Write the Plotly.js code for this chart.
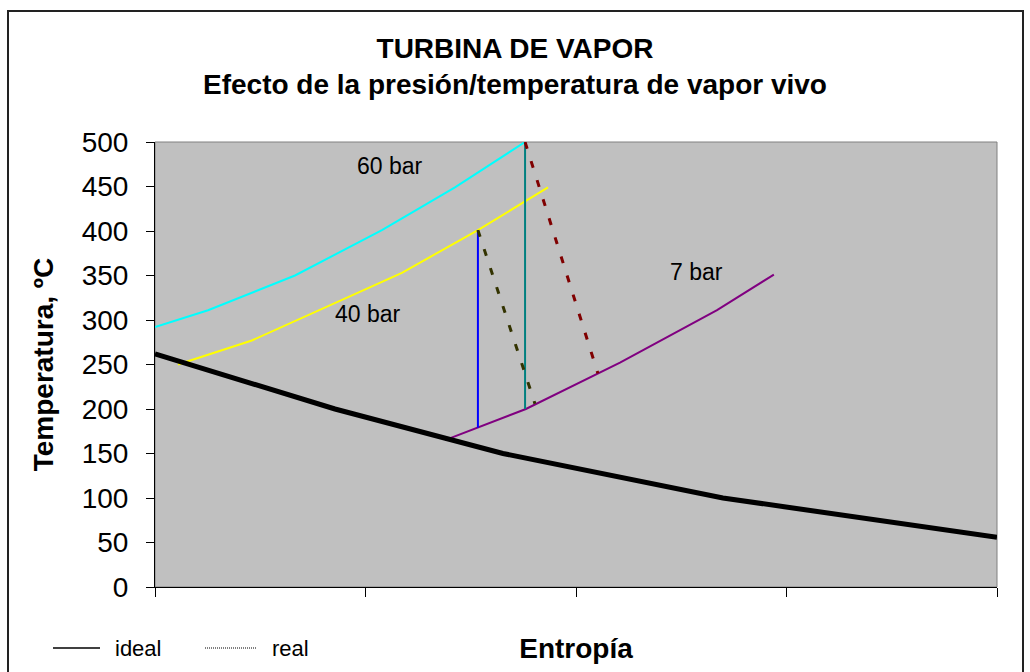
<!DOCTYPE html>
<html>
<head>
<meta charset="utf-8">
<script src="https://cdn.plot.ly/plotly-3.0.1.min.js"></script>
<style>html,body{margin:0;padding:0;background:#fff;}#chart{width:1030px;height:672px;}</style>
</head>
<body>
<div id="chart"></div>
<script>
// Entropy (arbitrary units, axis 0..4) and temperature (ºC)
const idealX = [0, 0.855, 1.653, 2.698, 4.0];
const idealT = [262, 200, 150, 100, 56];

const bar60X = [0, 0.252, 0.665, 1.078, 1.425, 1.758];
const bar60T = [292, 311, 350, 401, 449, 500];

const bar40X = [0.109, 0.46, 1.173, 1.534, 1.867];
const bar40T = [250, 277, 353, 401, 449];

const bar7X = [1.378, 1.534, 1.762, 2.209, 2.67, 2.94];
const bar7T = [165, 179, 200, 252, 311, 351];

const exp40X = [1.534, 1.534];
const exp40T = [401, 179];
const exp60X = [1.758, 1.758];
const exp60T = [500, 200];

const real40X = [1.534, 1.805];
const real40T = [401, 206];
const real60X = [1.758, 2.104];
const real60T = [500, 240];

const labels = [
  {text: '60 bar', x: 1.115, t: 473},
  {text: '40 bar', x: 1.01, t: 307},
  {text: '7 bar', x: 2.572, t: 354}
];

const legendItems = [
  {name: 'ideal', dash: 'solid', width: 1.5, x0: 53, x1: 100, tx: 113},
  {name: 'real', dash: '1px,1px', width: 1, x0: 205, x1: 257, tx: 270}
];

const FONT = 'Liberation Sans, Arial, sans-serif';

function line(x, y, color, width, dash, name) {
  return {x: x, y: y, type: 'scatter', mode: 'lines', name: name || '',
    line: {color: color, width: width, dash: dash || 'solid'},
    showlegend: false, hoverinfo: 'skip'};
}

const traces = [
  line(bar60X, bar60T, '#00FFFF', 2, 'solid', '60 bar'),
  line(bar40X, bar40T, '#FFFF00', 2, 'solid', '40 bar'),
  line(bar7X, bar7T, '#800080', 2, 'solid', '7 bar'),
  line(exp40X, exp40T, '#0000FF', 2, 'solid', 'ideal 40 bar'),
  line(exp60X, exp60T, '#008080', 2, 'solid', 'ideal 60 bar'),
  line(real40X, real40T, '#333300', 3, '7px,13px', 'real 40 bar'),
  line(real60X, real60T, '#800000', 3, '7px,13px', 'real 60 bar'),
  line(idealX, idealT, '#000000', 5, 'solid', 'saturación')
];

// plot area in pixels: left 155, right 997, top 142, bottom 587
const L = 155, R = 997, T = 142, B = 587;
const px = v => (v - L) / (R - L);
const py = v => (B - v) / (B - T);
const LEG_Y = 648;

const shapes = [
  {type: 'rect', xref: 'paper', yref: 'paper', x0: 0, x1: 1, y0: 0, y1: 1,
   line: {color: '#808080', width: 1}, layer: 'below'},
  {type: 'rect', xref: 'paper', yref: 'paper', x0: px(8), x1: px(1023), y0: py(690), y1: py(11),
   line: {color: '#222', width: 2}, fillcolor: 'rgba(0,0,0,0)', layer: 'above'}
];
legendItems.forEach(it => shapes.push({
  type: 'line', xref: 'paper', yref: 'paper', x0: px(it.x0), x1: px(it.x1), y0: py(LEG_Y), y1: py(LEG_Y),
  line: {color: '#000', width: it.width, dash: it.dash}
}));

const annotations = labels.map(a => ({
  x: a.x, y: a.t, xref: 'x', yref: 'y', text: a.text, showarrow: false,
  font: {family: FONT, size: 23, color: '#000'}, xanchor: 'center', yanchor: 'middle'
}));
legendItems.forEach(it => annotations.push({
  x: px(it.tx), y: py(LEG_Y), xref: 'paper', yref: 'paper', text: it.name, showarrow: false,
  font: {family: FONT, size: 22, color: '#000'}, xanchor: 'left', yanchor: 'middle'
}));

const layout = {
  width: 1030, height: 672,
  margin: {l: L, r: 1030 - R, t: T, b: 672 - B, pad: 0},
  paper_bgcolor: '#FFFFFF',
  plot_bgcolor: '#C0C0C0',
  font: {family: FONT, color: '#000'},
  showlegend: false,
  title: {
    text: 'TURBINA DE VAPOR<br>Efecto de la presión/temperatura de vapor vivo',
    font: {family: FONT, size: 28, color: '#000', weight: 'bold'},
    x: 0.5, xanchor: 'center', y: 1 - 58 / 672, yanchor: 'middle'
  },
  xaxis: {
    range: [0, 4], dtick: 1, tick0: 0, showticklabels: false,
    ticks: 'outside', ticklen: 9, tickcolor: '#000', tickwidth: 1,
    showgrid: false, zeroline: false, showline: true, linecolor: '#000', linewidth: 1,
    title: {text: '<b>Entropía</b>', font: {family: FONT, size: 28, color: '#000'}, standoff: 42},
    fixedrange: true
  },
  yaxis: {
    range: [0, 500], dtick: 50, tick0: 0,
    ticks: 'outside', ticklen: 8, tickcolor: '#000', tickwidth: 1,
    tickfont: {family: FONT, size: 28, color: '#000'}, ticklabelstandoff: 12,
    showgrid: false, zeroline: false, showline: true, linecolor: '#000', linewidth: 1,
    title: {text: '<b>Temperatura, ºC</b>', font: {family: FONT, size: 28, color: '#000'}, standoff: 19},
    fixedrange: true
  },
  annotations: annotations,
  shapes: shapes
};

Plotly.newPlot('chart', traces, layout, {displayModeBar: false, staticPlot: true});
</script>
</body>
</html>
